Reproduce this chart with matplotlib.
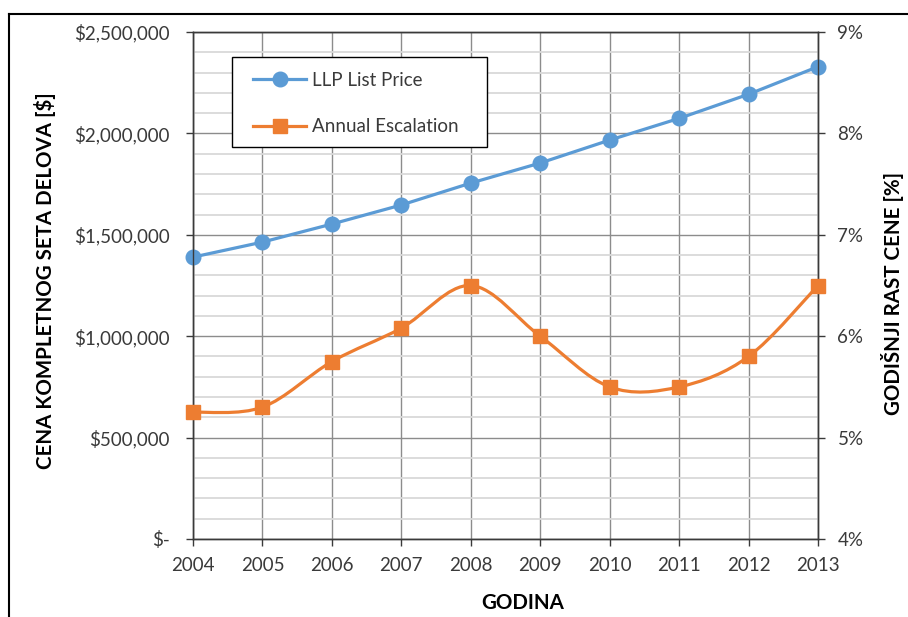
import matplotlib
matplotlib.use("Agg")
import matplotlib.pyplot as plt
from matplotlib.lines import Line2D
from matplotlib.path import Path
from matplotlib.patches import PathPatch, Rectangle
import numpy as np

plt.rcParams['font.family'] = ['Lato', 'DejaVu Sans']

years = [2004, 2005, 2006, 2007, 2008, 2009, 2010, 2011, 2012, 2013]
llp_price = [1390000, 1464000, 1553000, 1647000, 1755000,
             1854000, 1967000, 2074000, 2193000, 2329000]
escalation = [5.25, 5.30, 5.75, 6.08, 6.50, 6.00, 5.50, 5.50, 5.80, 6.50]

price_ticks = [0, 500000, 1000000, 1500000, 2000000, 2500000]
price_labels = ['$-', '$500,000', '$1,000,000', '$1,500,000', '$2,000,000', '$2,500,000']
pct_ticks = [4, 5, 6, 7, 8, 9]
pct_labels = ['4%', '5%', '6%', '7%', '8%', '9%']

BLUE = '#5B9BD5'
ORANGE = '#ED7D31'
TEXT = '#3a3a3a'
W, H = 908, 617


def smooth_path(xs, ys):
    # Bezier segments like a spreadsheet "smoothed line"
    pts = np.column_stack([xs, ys]).astype(float)
    n = len(pts)
    verts = [pts[0]]
    codes = [Path.MOVETO]
    for i in range(n - 1):
        p0 = pts[max(i - 1, 0)]
        p1 = pts[i]
        p2 = pts[i + 1]
        p3 = pts[min(i + 2, n - 1)]
        c1 = p1 + (p2 - p0) / 6.0
        c2 = p2 - (p3 - p1) / 6.0
        verts += [c1, c2, p2]
        codes += [Path.CURVE4] * 3
    return Path(verts, codes)


fig = plt.figure(figsize=(W / 100, H / 100), dpi=100)
ax = fig.add_axes([193 / W, 1 - 539 / H, 625 / W, 507 / H])
ax2 = ax.twinx()

# left axis: price
ax.set_xlim(2004, 2013)
ax.set_ylim(0, 2500000)
ax.set_xticks(years)
ax.set_xticklabels([str(y) for y in years])
ax.set_yticks(price_ticks)
ax.set_yticklabels(price_labels)
ax.set_yticks(np.arange(0, 2500001, 100000), minor=True)
ax.grid(which='minor', axis='y', color='#d9d9d9', lw=1.3)
ax.grid(which='major', axis='both', color='#8c8c8c', lw=1.0)
ax.set_axisbelow(True)
ax.tick_params(axis='y', which='minor', length=0)
ax.tick_params(axis='both', which='major', direction='out', length=5,
               width=1, color=TEXT, labelcolor=TEXT, labelsize=13.5)
ax.tick_params(axis='y', pad=12)
ax.tick_params(axis='x', pad=8)

ax.plot(years, llp_price, color=BLUE, lw=2.3, marker='o', markersize=10.5,
        zorder=3, clip_on=False)

# right axis: annual escalation
ax2.set_ylim(4, 9)
ax2.set_yticks(pct_ticks)
ax2.set_yticklabels(pct_labels)
ax2.tick_params(axis='y', direction='out', length=5, width=1, color=TEXT,
                labelcolor=TEXT, labelsize=13.5, pad=9)
ax2.add_patch(PathPatch(smooth_path(years, escalation), facecolor='none',
                        edgecolor=ORANGE, lw=2.3, zorder=3))
ax2.plot(years, escalation, linestyle='none', marker='s', markersize=10.5,
         color=ORANGE, zorder=4, clip_on=False)

for a in (ax, ax2):
    for s in a.spines.values():
        s.set_color(TEXT)
        s.set_linewidth(1.0)

# axis titles
fig.text(45 / W, 1 - 281 / H, 'CENA KOMPLETNOG SETA DELOVA [$]', rotation=90,
         ha='center', va='center', fontsize=14.8, fontweight='bold', color='black')
fig.text(892 / W, 1 - 293 / H, 'GODIŠNJI RAST CENE [%]', rotation=90,
         ha='center', va='center', fontsize=14.8, fontweight='bold', color='black')
fig.text(523 / W, 1 - 603 / H, 'GODINA', ha='center', va='center',
         fontsize=14.8, fontweight='bold', color='black')

# legend box and entries
box_x0, box_x1, box_y0, box_y1 = 232, 487, 57, 147
ax2.add_patch(Rectangle(((box_x0 - 193) / 625, 1 - (box_y1 - 32) / 507),
                        (box_x1 - box_x0) / 625, (box_y1 - box_y0) / 507,
                        transform=ax2.transAxes, facecolor='white',
                        edgecolor='black', lw=1.0, zorder=5))
handles = [
    Line2D([], [], color=BLUE, lw=2.3, marker='o', markersize=10.5),
    Line2D([], [], color=ORANGE, lw=2.3, marker='s', markersize=10.5),
]
leg = ax2.legend(handles, ['LLP List Price', 'Annual Escalation'],
                 loc='center left',
                 bbox_to_anchor=((253 - 193) / 625, 1 - (103.5 - 32) / 507),
                 fontsize=13.5, frameon=False, handlelength=2.83,
                 labelspacing=1.56, borderpad=0, borderaxespad=0,
                 handletextpad=0.32)
leg.set_zorder(6)
for t in leg.get_texts():
    t.set_color(TEXT)

# outer chart frame
fig.add_artist(Line2D([9 / W, 9 / W], [0, 1 - 14 / H],
                      transform=fig.transFigure, color='black', lw=1.5))
fig.add_artist(Line2D([9 / W, 1], [1 - 14 / H, 1 - 14 / H],
                      transform=fig.transFigure, color='black', lw=1.5))

fig.savefig('out.png', dpi=100)
